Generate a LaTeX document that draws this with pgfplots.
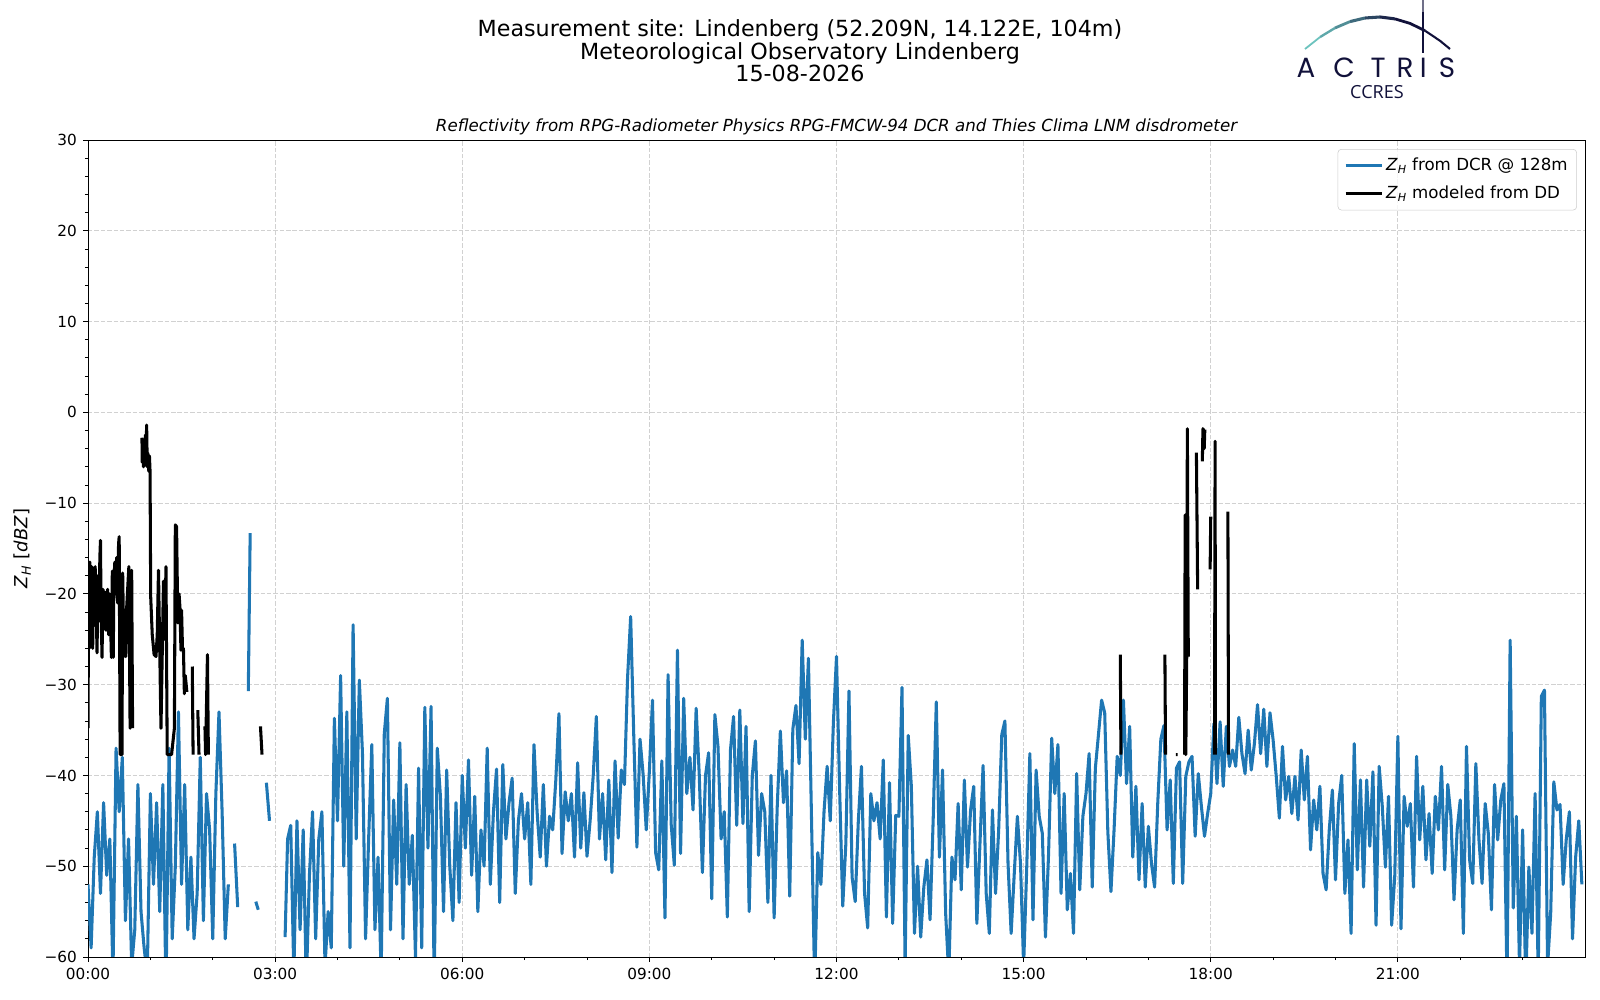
\documentclass[border=0pt]{standalone}
\usepackage{fontspec}
\setmainfont{DejaVu Sans}[ItalicFont={DejaVu Sans Oblique},BoldFont={DejaVu Sans Bold},BoldItalicFont={DejaVu Sans Bold Oblique}]
\newfontfamily\logofont{Poppins}
\newfontfamily\ccresfont{Open Sans}
\usepackage{pgfplots}
\usepackage{pgfplotstable}
\pgfplotsset{compat=1.18}
\definecolor{mplblue}{HTML}{1F77B4}
\definecolor{navy}{HTML}{11113A}
\definecolor{tealc}{HTML}{6CC3BE}
\newcommand\ZH{\textit{Z}\textsubscript{\textit{H}}}

\pgfplotstableread[row sep=\\]{
h z \\
0.00 -52 \\ 0.05 -59 \\ 0.10 -49 \\ 0.15 -44 \\ 0.20 -53 \\ 0.25 -43 \\ 0.30 -51 \\ 0.35 -47 \\ 0.40 -62 \\ 0.45 -37 \\
0.50 -44 \\ 0.55 -38 \\ 0.60 -56 \\ 0.65 -47 \\ 0.70 -61 \\ 0.75 -57 \\ 0.80 -41 \\ 0.85 -55 \\ 0.90 -59 \\ 0.95 -62 \\
1.00 -42 \\ 1.05 -52 \\ 1.10 -43 \\ 1.15 -55 \\ 1.20 -41 \\ 1.25 -64 \\ 1.30 -37 \\ 1.35 -58 \\ 1.40 -50 \\ 1.45 -33 \\
1.50 -52 \\ 1.55 -41 \\ 1.60 -57 \\ 1.65 -49 \\ 1.70 -58 \\ 1.75 -53 \\ 1.80 -38 \\ 1.85 -56 \\ 1.90 -42 \\ 1.95 -46 \\
2.00 -58 \\ 2.05 -42 \\ 2.10 -33 \\ 2.15 -44 \\ 2.20 -58 \\ 2.25 -52 \\ 2.30 nan \\ 2.35 -47.5 \\ 2.40 -54.5 \\ 2.45 nan \\
2.57 -30.7 \\ 2.60 -13.3 \\ 2.65 nan \\ 2.69 -53.9 \\ 2.73 -54.8 \\ 2.78 nan \\ 2.86 -40.8 \\ 2.91 -45 \\ 2.95 nan \\
3.16 -57.8 \\ 3.20 -47 \\ 3.25 -45.5 \\ 3.30 -62 \\ 3.35 -45 \\ 3.40 -57 \\ 3.45 -46 \\ 3.50 -63 \\ 3.55 -51 \\ 3.60 -44 \\
3.65 -58 \\ 3.70 -47 \\ 3.75 -44 \\ 3.80 -61 \\ 3.85 -55 \\ 3.90 -59 \\ 3.95 -33.7 \\
4.00 -45 \\ 4.05 -29 \\ 4.10 -50 \\ 4.15 -33 \\ 4.20 -59 \\ 4.25 -23.4 \\ 4.30 -47 \\ 4.35 -29.5 \\ 4.40 -37.5 \\ 4.45 -58 \\
4.50 -46.8 \\ 4.55 -36.6 \\ 4.60 -57 \\ 4.65 -49 \\ 4.70 -62 \\ 4.75 -35.4 \\ 4.80 -31.5 \\ 4.85 -57 \\ 4.90 -42.7 \\ 4.95 -52 \\
5.00 -36.4 \\ 5.05 -58 \\ 5.10 -41 \\ 5.15 -52 \\ 5.20 -46.6 \\ 5.25 -60 \\ 5.30 -39.2 \\ 5.35 -59 \\ 5.40 -32.5 \\ 5.45 -48 \\
5.50 -32.4 \\ 5.55 -63 \\ 5.60 -37 \\ 5.65 -42.3 \\ 5.70 -55 \\ 5.75 -39.4 \\ 5.80 -50 \\ 5.85 -56 \\ 5.90 -43 \\ 5.95 -54 \\
6.00 -40 \\ 6.05 -48 \\ 6.10 -38.3 \\ 6.15 -51 \\ 6.20 -42.3 \\ 6.25 -55 \\ 6.30 -46 \\ 6.35 -50 \\ 6.40 -37 \\ 6.45 -52 \\
6.50 -44 \\ 6.55 -39.3 \\ 6.60 -54 \\ 6.65 -38.8 \\ 6.70 -47 \\ 6.75 -43 \\ 6.80 -40.3 \\ 6.85 -53 \\ 6.90 -45 \\ 6.95 -42 \\
7.00 -47 \\ 7.05 -43 \\ 7.10 -52 \\ 7.15 -36.6 \\ 7.20 -44 \\ 7.25 -49 \\ 7.30 -41 \\ 7.35 -50 \\ 7.40 -44.5 \\ 7.45 -46 \\
7.50 -40.5 \\ 7.55 -33.2 \\ 7.60 -48.6 \\ 7.65 -41.8 \\ 7.70 -45 \\ 7.75 -42 \\ 7.80 -49 \\ 7.85 -38.6 \\ 7.90 -48 \\ 7.95 -41.9 \\
8.00 -48.9 \\ 8.05 -45 \\ 8.10 -40 \\ 8.15 -33.5 \\ 8.20 -47 \\ 8.25 -42 \\ 8.30 -49.3 \\ 8.35 -40.5 \\ 8.40 -50.7 \\ 8.45 -38.4 \\
8.50 -46.9 \\ 8.55 -39.4 \\ 8.60 -41 \\ 8.65 -29.3 \\ 8.70 -22.5 \\ 8.75 -35.7 \\ 8.80 -47.9 \\ 8.85 -36 \\ 8.90 -39.9 \\ 8.95 -46 \\
9.00 -39.5 \\ 9.05 -31.7 \\ 9.10 -48.5 \\ 9.15 -50.4 \\ 9.20 -38.4 \\ 9.25 -55.7 \\ 9.30 -28.9 \\ 9.35 -45.4 \\ 9.40 -49.9 \\ 9.45 -26.2 \\
9.50 -48.6 \\ 9.55 -31.5 \\ 9.60 -42 \\ 9.65 -38 \\ 9.70 -43.8 \\ 9.75 -32.6 \\ 9.80 -40 \\ 9.85 -50.7 \\ 9.90 -40 \\ 9.95 -37.5 \\
10.00 -53.6 \\ 10.05 -33.3 \\ 10.10 -36.8 \\ 10.15 -47 \\ 10.20 -44 \\ 10.25 -55.6 \\ 10.30 -37.2 \\ 10.35 -33.5 \\ 10.40 -45.5 \\ 10.45 -32.8 \\
10.50 -45.3 \\ 10.55 -34.6 \\ 10.60 -55 \\ 10.65 -40 \\ 10.70 -36.2 \\ 10.75 -48.8 \\ 10.80 -42 \\ 10.85 -44 \\ 10.90 -54 \\ 10.95 -40 \\
11.00 -55.7 \\ 11.05 -43.4 \\ 11.10 -35.1 \\ 11.15 -43 \\ 11.20 -39.5 \\ 11.25 -53.3 \\ 11.30 -34.9 \\ 11.35 -32.3 \\ 11.40 -38.7 \\ 11.45 -25.1 \\
11.50 -36 \\ 11.55 -27.1 \\ 11.60 -45 \\ 11.65 -63 \\ 11.70 -48.5 \\ 11.75 -52 \\ 11.80 -44 \\ 11.85 -39 \\ 11.90 -45 \\ 11.95 -34.2 \\
12.00 -26.9 \\ 12.05 -41.5 \\ 12.10 -54.4 \\ 12.15 -47.5 \\ 12.20 -30.7 \\ 12.25 -51.2 \\ 12.30 -53.9 \\ 12.35 -45 \\ 12.40 -39 \\ 12.45 -53 \\
12.50 -56.8 \\ 12.55 -42 \\ 12.60 -45 \\ 12.65 -43 \\ 12.70 -47 \\ 12.75 -38.3 \\ 12.80 -55.6 \\ 12.85 -40.8 \\ 12.90 -56.3 \\ 12.95 -44.4 \\
13.00 -44.5 \\ 13.05 -30.3 \\ 13.10 -61 \\ 13.15 -35.6 \\ 13.20 -41.2 \\ 13.25 -57.4 \\ 13.30 -50 \\ 13.35 -57.8 \\ 13.40 -52.3 \\ 13.45 -49.3 \\
13.50 -55.9 \\ 13.55 -44.9 \\ 13.60 -31.9 \\ 13.65 -49 \\ 13.70 -39.4 \\ 13.75 -55.2 \\ 13.80 -62 \\ 13.85 -49 \\ 13.90 -51.5 \\ 13.95 -43.1 \\
14.00 -52.6 \\ 14.05 -40.5 \\ 14.10 -50.1 \\ 14.15 -43.8 \\ 14.20 -41.2 \\ 14.25 -56.3 \\ 14.30 -47.5 \\ 14.35 -38.9 \\ 14.40 -53 \\ 14.45 -57.4 \\
14.50 -43.8 \\ 14.55 -53 \\ 14.60 -46 \\ 14.65 -35.5 \\ 14.70 -34 \\ 14.75 -49.7 \\ 14.80 -57.4 \\ 14.85 -50.8 \\ 14.90 -44.5 \\ 14.95 -49.7 \\
15.00 -61 \\ 15.05 -50.1 \\ 15.10 -37.6 \\ 15.15 -55.9 \\ 15.20 -39.4 \\ 15.25 -44.5 \\ 15.30 -46.4 \\ 15.35 -57.8 \\ 15.40 -48.6 \\ 15.45 -35.9 \\
15.50 -42 \\ 15.55 -36.6 \\ 15.60 -53 \\ 15.65 -42 \\ 15.70 -54.8 \\ 15.75 -50.8 \\ 15.80 -57.4 \\ 15.85 -39.8 \\ 15.90 -52.6 \\ 15.95 -44.5 \\
16.00 -42 \\ 16.05 -37.6 \\ 16.10 -52.3 \\ 16.15 -39.2 \\ 16.20 -35.5 \\ 16.25 -31.7 \\ 16.30 -33.1 \\ 16.35 -46.2 \\ 16.40 -52.8 \\ 16.45 -46 \\
16.50 -37.9 \\ 16.55 -40 \\ 16.60 -31.7 \\ 16.65 -40.9 \\ 16.70 -34.6 \\ 16.75 -49 \\ 16.80 -41.2 \\ 16.85 -51.5 \\ 16.90 -43.1 \\ 16.95 -52.3 \\
17.00 -45.6 \\ 17.05 -49.7 \\ 17.10 -52.3 \\ 17.15 -43.1 \\ 17.20 -36 \\ 17.25 -34.5 \\ 17.30 -46 \\ 17.35 -40.5 \\ 17.40 -51.9 \\ 17.45 -39.2 \\
17.50 -38.5 \\ 17.55 -51.9 \\ 17.60 -40.1 \\ 17.65 -38.5 \\ 17.70 -37.9 \\ 17.75 -46.7 \\ 17.80 -39.8 \\ 17.85 -43.4 \\ 17.90 -46.7 \\ 17.95 -44.2 \\
18.00 -42 \\ 18.05 -34.3 \\ 18.10 -40.9 \\ 18.15 -34.1 \\ 18.20 -41.2 \\ 18.25 -34.6 \\ 18.30 -39 \\ 18.35 -37.2 \\ 18.40 -39 \\ 18.45 -33.6 \\
18.50 -37.6 \\ 18.55 -39.8 \\ 18.60 -35 \\ 18.65 -39.4 \\ 18.70 -36.5 \\ 18.75 -32.2 \\ 18.80 -37.6 \\ 18.85 -32.7 \\ 18.90 -39 \\ 18.95 -33.1 \\
19.00 -36.1 \\ 19.05 -40.1 \\ 19.10 -44.7 \\ 19.15 -36.8 \\ 19.20 -42.7 \\ 19.25 -40.1 \\ 19.30 -44.2 \\ 19.35 -40.1 \\ 19.40 -44.9 \\ 19.45 -37.2 \\
19.50 -42.7 \\ 19.55 -37.9 \\ 19.60 -48.2 \\ 19.65 -42.7 \\ 19.70 -46 \\ 19.75 -41.2 \\ 19.80 -50.8 \\ 19.85 -52.6 \\ 19.90 -46 \\ 19.95 -41.6 \\
20.00 -51.5 \\ 20.05 -43.1 \\ 20.10 -40 \\ 20.15 -53 \\ 20.20 -47.1 \\ 20.25 -57.4 \\ 20.30 -36.5 \\ 20.35 -50.4 \\ 20.40 -40.5 \\ 20.45 -52.3 \\
20.50 -40.5 \\ 20.55 -47.8 \\ 20.60 -39.6 \\ 20.65 -56.5 \\ 20.70 -39 \\ 20.75 -43.4 \\ 20.80 -50.1 \\ 20.85 -42.3 \\ 20.90 -56.5 \\ 20.95 -51.1 \\
21.00 -35.7 \\ 21.05 -56.9 \\ 21.10 -42.3 \\ 21.15 -45.6 \\ 21.20 -43.1 \\ 21.25 -52.3 \\ 21.30 -37.9 \\ 21.35 -47.1 \\ 21.40 -41.2 \\ 21.45 -49.3 \\
21.50 -44.2 \\ 21.55 -50.8 \\ 21.60 -42.3 \\ 21.65 -46 \\ 21.70 -39 \\ 21.75 -50.4 \\ 21.80 -41 \\ 21.85 -44.5 \\ 21.90 -53.7 \\ 21.95 -46 \\
22.00 -42.7 \\ 22.05 -57.4 \\ 22.10 -36.8 \\ 22.15 -49.3 \\ 22.20 -51.9 \\ 22.25 -38.7 \\ 22.30 -47.1 \\ 22.35 -51.9 \\ 22.40 -43.1 \\ 22.45 -46.4 \\
22.50 -54.8 \\ 22.55 -41 \\ 22.60 -47.1 \\ 22.65 -42.7 \\ 22.70 -40.9 \\ 22.75 -63 \\ 22.80 -25.1 \\ 22.85 -54.6 \\ 22.90 -44.5 \\ 22.95 -61 \\
23.00 -46 \\ 23.05 -63 \\ 23.10 -50.1 \\ 23.15 -57.4 \\ 23.20 -42 \\ 23.25 -62 \\ 23.30 -31.3 \\ 23.35 -30.6 \\ 23.40 -61 \\ 23.45 -55.2 \\
23.50 -40.7 \\ 23.55 -43.8 \\ 23.60 -43.2 \\ 23.65 -52 \\ 23.70 -47 \\ 23.75 -44 \\ 23.80 -58 \\ 23.85 -49 \\ 23.90 -45 \\ 23.95 -52 \\
}\dcr

\pgfplotstableread[row sep=\\]{
h z \\
0.000 -34.8 \\ 0.010 -19 \\ 0.020 -26 \\ 0.030 -16.5 \\ 0.045 -24 \\ 0.060 -17 \\ 0.075 -26 \\ 0.085 -20 \\ 0.100 -23.5 \\ 0.115 -17 \\
0.130 -21 \\ 0.145 -26.5 \\ 0.160 -18 \\ 0.175 -23 \\ 0.190 -16 \\ 0.200 -14.1 \\ 0.210 -22 \\ 0.225 -27 \\ 0.240 -19.5 \\ 0.255 -22 \\
0.270 -19.8 \\ 0.285 -24 \\ 0.300 -21 \\ 0.315 -19.5 \\ 0.330 -24.5 \\ 0.345 -20 \\ 0.360 -22.5 \\ 0.375 -27 \\ 0.390 -17.5 \\ 0.405 -27 \\
0.415 -18.5 \\ 0.430 -16.5 \\ 0.445 -20 \\ 0.460 -16 \\ 0.475 -21 \\ 0.490 -14.5 \\ 0.500 -13.7 \\ 0.515 -37.7 \\ 0.545 -37.7 \\ 0.556 -17.7 \\
0.575 -26.9 \\ 0.590 -21.8 \\ 0.605 -26.9 \\ 0.620 -21.5 \\ 0.655 -17 \\ 0.675 -34.8 \\ 0.700 -17.4 \\ 0.715 -34.8 \\ 0.720 nan \\
0.865 -2.8 \\ 0.870 -5.5 \\ 0.880 -3.2 \\ 0.890 -6 \\ 0.900 -3 \\ 0.910 -5.8 \\ 0.920 -2.5 \\ 0.930 -5 \\ 0.940 -1.4 \\ 0.950 -6 \\
0.960 -4.5 \\ 0.975 -6.5 \\ 0.985 -4.8 \\ 0.995 -6.5 \\ 1.005 -20.3 \\ 1.030 -24.5 \\ 1.060 -26.7 \\ 1.090 -26.9 \\ 1.110 -24.5 \\ 1.130 -17.4 \\
1.170 -34.8 \\ 1.210 -18.6 \\ 1.230 -25 \\ 1.250 -17 \\ 1.270 -37.7 \\ 1.340 -37.7 \\ 1.385 -34.8 \\ 1.400 -12.4 \\ 1.420 -12.6 \\ 1.440 -23.2 \\
1.460 -20 \\ 1.475 -21.6 \\ 1.490 -26.2 \\ 1.500 -21.8 \\ 1.515 -26 \\ 1.530 -26 \\ 1.545 -31 \\ 1.560 -29 \\ 1.585 -30.8 \\ 1.590 nan \\
1.672 -28 \\ 1.685 -37.7 \\ 1.690 nan \\ 1.760 -32.8 \\ 1.780 -37.7 \\ 1.790 nan \\ 1.875 -34.6 \\ 1.885 -37.7 \\ 1.915 -26.7 \\ 1.930 -37.7 \\ 1.940 nan \\
2.765 -34.6 \\ 2.790 -37.7 \\ 2.800 nan \\
16.550 -26.7 \\ 16.560 -37.7 \\ 16.570 nan \\ 17.265 -26.7 \\ 17.275 -37.7 \\ 17.280 nan \\ 17.440 -37.7 \\ 17.470 -37.7 \\ 17.480 nan \\
17.580 -37.7 \\ 17.590 -11.3 \\ 17.600 -37.7 \\ 17.615 -26.9 \\ 17.625 -1.8 \\ 17.640 -26.9 \\ 17.650 nan \\
17.770 -4.45 \\ 17.790 -19.5 \\ 17.800 nan \\ 17.865 -5.4 \\ 17.875 -1.8 \\ 17.885 -2.0 \\ 17.895 -4.0 \\ 17.905 -1.9 \\ 17.910 nan \\
17.990 -17.3 \\ 18.000 -11.5 \\ 18.010 nan \\ 18.060 -37.7 \\ 18.070 -3.2 \\ 18.075 -37.7 \\ 18.080 nan \\ 18.275 -10.95 \\ 18.285 -37.7 \\
}\ddm

\begin{document}
\begin{tikzpicture}
\path[use as bounding box] (0,0) rectangle (1152pt,720pt);
\begin{axis}[
  at={(63.36pt,30.96pt)}, anchor=south west,
  scale only axis, width=1077.84pt, height=588.24pt,
  xmin=0, xmax=24, ymin=-60, ymax=30,
  xtick={0,3,...,21},
  xticklabels={00:00,03:00,06:00,09:00,12:00,15:00,18:00,21:00},
  minor xtick={1,2,4,5,7,8,10,11,13,14,16,17,19,20,22,23},
  ytick={-60,-50,...,30},
  yticklabels={−60,−50,−40,−30,−20,−10,0,10,20,30},
  minor y tick num=4,
  tick align=outside, tick pos=left,
  major tick length=3.6pt, minor tick length=2.3pt,
  every tick/.style={black, line width=0.6pt},
  axis line style={line width=0.7pt},
  grid=major,
  major grid style={black!18, dash pattern=on 3.2pt off 1.4pt, line width=0.6pt},
  ticklabel style={font=\fontsize{11}{13}\selectfont},
  xticklabel style={anchor=north, inner sep=0pt, yshift=-4.3pt},
  yticklabel style={anchor=east, inner sep=0pt, xshift=-4.3pt},
  ylabel={\ZH\ [\textit{dBZ}]},
  ylabel style={font=\fontsize{13}{15}\selectfont, at={(axis description cs:-0.0439,0.5)}, anchor=center, rotate=0},
  unbounded coords=jump,
  legend cell align=left,
  legend style={at={(1,1)}, anchor=north east, xshift=-5.8pt, yshift=-6.5pt,
    draw=black!20, fill=white, fill opacity=0.8, text opacity=1, draw opacity=1,
    rounded corners=2.5pt, font=\fontsize{12}{14}\selectfont,
    inner xsep=4.5pt, inner ysep=4.5pt, row sep=5.5pt},
  legend image code/.code={\draw[#1] (0pt,0pt) -- (26pt,0pt);},
]
\addplot[mplblue, line width=2.2pt, line join=round] table[x=h, y=z] {\dcr};
\addlegendentry{\ZH\ from DCR @ 128m}
\addplot[black, line width=2.2pt, line join=round] table[x=h, y=z] {\ddm};
\addlegendentry{\ZH\ modeled from DD}
\end{axis}

\begin{scope}[shift={(0pt,720pt)}, x=0.72pt, y=-0.72pt]
\node[anchor=base, font=\fontsize{16}{19}\selectfont] at (800,36.7) {Measurement site: Lindenberg (52.209N, 14.122E, 104m)};
\node[anchor=base, font=\fontsize{16}{19}\selectfont] at (800,59.3) {Meteorological Observatory Lindenberg};
\node[anchor=base, font=\fontsize{16}{19}\selectfont] at (800,81.7) {15-08-2026};
\node[anchor=base, font=\fontsize{12}{14}\selectfont\itshape] at (836.5,131.7) {Reflectivity from RPG-Radiometer Physics RPG-FMCW-94 DCR and Thies Clima LNM disdrometer};
% logo
\draw[tealc, line width=1.3pt] (1305,49) -- (1320,37.1);
\draw[tealc!85!navy, line width=1.7pt] (1320,37.1) -- (1335,28.0);
\draw[tealc!70!navy, line width=2pt] (1335,28.0) -- (1350,21.6);
\draw[tealc!50!navy, line width=2.2pt] (1350,21.6) -- (1365,18.0);
\draw[tealc!30!navy, line width=2.2pt] (1365,18.0) -- (1380,17.0);
\draw[tealc!12!navy, line width=2.2pt] (1380,17.0) -- (1395,18.9);
\draw[navy, line width=2pt] (1395,18.9) -- (1410,23.4) -- (1425,30.7);
\draw[navy, line width=1.5pt] (1425,30.7) -- (1440,40.8) -- (1450,49);
\draw[navy!60, line width=1.4pt] (1423.3,0) -- (1423.3,12);
\draw[navy, line width=1.4pt] (1423.3,12) -- (1423.3,53);
\begin{scope}[font=\logofont\fontsize{20}{22}\selectfont, text=navy]
\node[anchor=base] at (1306,77.3) {A};
\node[anchor=base] at (1344,77.3) {C};
\node[anchor=base] at (1378,77.3) {T};
\node[anchor=base] at (1405,77.3) {R};
\node[anchor=base] at (1423.3,77.3) {I};
\node[anchor=base] at (1447,77.3) {S};
\end{scope}
\node[anchor=base, text=navy, font=\ccresfont\fontsize{13}{15}\selectfont] at (1377,99) {CCRES};
\end{scope}
\end{tikzpicture}
\end{document}
